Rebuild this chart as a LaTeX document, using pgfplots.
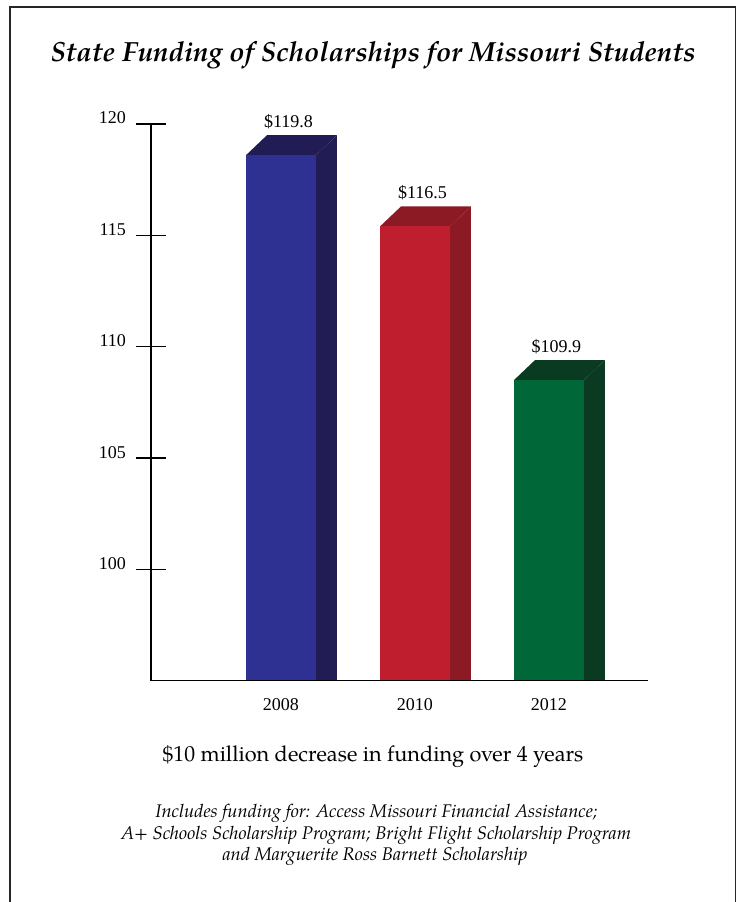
\documentclass[border=0pt]{standalone}
\usepackage{fontspec}
\setmainfont{TeX Gyre Pagella}
\newfontfamily\numfont{Liberation Serif}
\usepackage{pgfplots}
\pgfplotsset{compat=1.18}
\definecolor{blueF}{HTML}{2E3192}
\definecolor{blueS}{HTML}{211D54}
\definecolor{redF}{HTML}{BE1E2D}
\definecolor{redS}{HTML}{8C1A25}
\definecolor{greenF}{HTML}{006838}
\definecolor{greenS}{HTML}{0A3A22}
\begin{document}
\begin{tikzpicture}
\useasboundingbox (0pt,0pt) rectangle (737pt,902pt);
\draw[line width=1.3pt, black!85] (10pt,0pt) -- (10pt,895pt) -- (735.5pt,895pt) -- (735.5pt,0pt);
\node[anchor=base, inner sep=0pt, font=\fontsize{27.7}{32}\selectfont\bfseries\itshape] at (373pt,840pt) {State Funding of Scholarships for Missouri Students};
\node[anchor=base, inner sep=0pt, font=\fontsize{21.7}{26}\selectfont] at (373pt,140pt) {\$10 million decrease in funding over 4 years};
\node[anchor=base, inner sep=0pt, font=\fontsize{18.3}{22}\selectfont\itshape] at (376.5pt,84pt) {Includes funding for: Access Missouri Financial Assistance;};
\node[anchor=base, inner sep=0pt, font=\fontsize{18.3}{22}\selectfont\itshape] at (376pt,62pt) {A+ Schools Scholarship Program; Bright Flight Scholarship Program};
\node[anchor=base, inner sep=0pt, font=\fontsize{18.3}{22}\selectfont\itshape] at (375pt,41pt) {and Marguerite Ross Barnett Scholarship};
\begin{axis}[
  at={(151pt,221.3pt)}, anchor=south west,
  scale only axis, width=497pt, height=556.7pt,
  xmin=-0.97, xmax=2.739, ymin=95, ymax=120,
  axis x line=bottom, axis y line=left,
  axis line style={-, line width=1.2pt, black},
  xtick={0,1,2}, xticklabels={2008,2010,2012},
  x tick style={draw=none},
  ytick={100,105,...,120},
  y tick style={line width=1.3pt, black},
  tick align=center, major tick length=29pt,
  ticklabel style={font=\numfont\fontsize{18}{20}\selectfont},
  /pgf/number format/assume math mode=true,
  yticklabel style={anchor=base east, xshift=-7pt},
  xticklabel style={anchor=base, yshift=-15pt},
  axis on top, no markers, clip=false,
  bar/.style={ybar, bar width=0.522, bar shift=0pt, draw=none,
    point meta=explicit,
    nodes near coords={\$\pgfmathprintnumber[fixed,fixed zerofill,precision=1]{\pgfplotspointmeta}},
    every node near coord/.append style={anchor=base, font=\numfont\fontsize{18}{20}\selectfont, xshift=7.5pt, yshift=28pt, inner sep=0pt, text=black}},
]
% side faces
\addplot[fill=blueS, draw=none] coordinates {(0.261,95) (0.261,118.6) (0.418,119.5) (0.418,95)};
\addplot[fill=redS, draw=none] coordinates {(1.261,95) (1.261,115.4) (1.418,116.3) (1.418,95)};
\addplot[fill=greenS, draw=none] coordinates {(2.261,95) (2.261,108.5) (2.418,109.4) (2.418,95)};
% top faces
\addplot[fill=blueS, draw=none] coordinates {(-0.261,118.6) (-0.104,119.5) (0.418,119.5) (0.261,118.6)};
\addplot[fill=redS, draw=none] coordinates {(0.739,115.4) (0.896,116.3) (1.418,116.3) (1.261,115.4)};
\addplot[fill=greenS, draw=none] coordinates {(1.739,108.5) (1.896,109.4) (2.418,109.4) (2.261,108.5)};
% front faces
\addplot[bar, fill=blueF] coordinates {(0,118.6) [119.8]};
\addplot[bar, fill=redF] coordinates {(1,115.4) [116.5]};
\addplot[bar, fill=greenF] coordinates {(2,108.5) [109.9]};
\end{axis}
\end{tikzpicture}
\end{document}
